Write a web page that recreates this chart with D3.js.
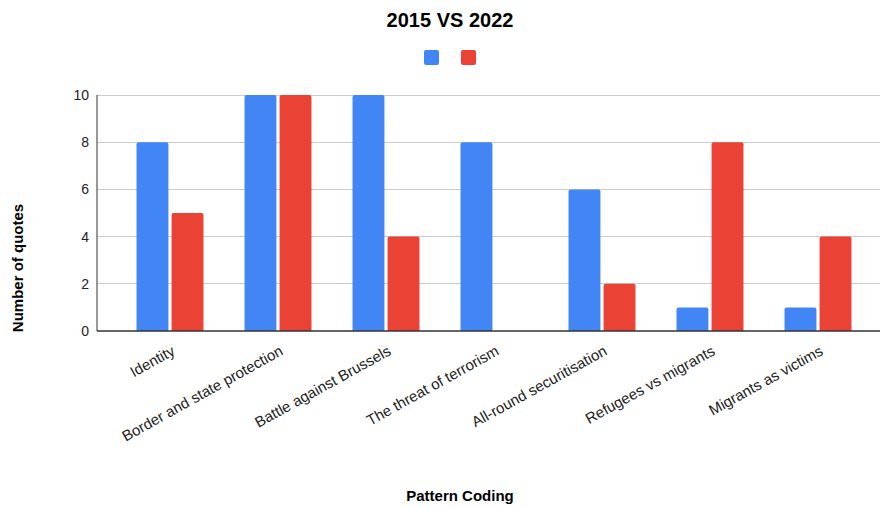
<!DOCTYPE html>
<html><head><meta charset="utf-8">
<script src="https://cdn.jsdelivr.net/npm/d3@7"></script>
<style>body{margin:0;background:#fff}svg{display:block;font-family:"Liberation Sans",Arial,sans-serif}</style>
</head><body><svg id="c" width="881" height="508"></svg>
<script>
const categories = ["Identity","Border and state protection","Battle against Brussels","The threat of terrorism","All-round securitisation","Refugees vs migrants","Migrants as victims"];
const seriesNames = ["2015","2022"];
const values2015 = [8,10,10,8,6,1,1];
const values2022 = [5,10,4,0,2,8,4];
const yTicks = [0,2,4,6,8,10];
const colors = ["#4285F4","#EA4335"];

const svg = d3.select("#c");
const plotL = 97, plotR = 880, plotT = 95, plotB = 331;
const x = d3.scaleBand().domain(categories).range([116, 872]).paddingInner(0.38).paddingOuter(0.19);
const xs = d3.scaleBand().domain(seriesNames).range([0, x.bandwidth()]).paddingInner(0.09);
const y = d3.scaleLinear().domain([0,10]).range([plotB, plotT]);

// title
svg.append("text").attr("x", 450).attr("y", 27).attr("text-anchor","middle")
  .attr("font-size", 20).attr("font-weight","bold").attr("fill","#000").text("2015 VS 2022");

// legend
const legend = svg.append("g");
seriesNames.forEach((s,i)=>{
  legend.append("rect").attr("x", 424 + i*37).attr("y", 50).attr("width", 15).attr("height", 15)
    .attr("rx", 2).attr("fill", colors[i]);
});

// gridlines
svg.append("g").selectAll("line").data(yTicks.filter(t=>t>0)).join("line")
  .attr("x1", plotL).attr("x2", plotR).attr("y1", d=>y(d)).attr("y2", d=>y(d))
  .attr("stroke", "#cccccc").attr("stroke-width", 1).attr("shape-rendering","crispEdges");

// y tick labels
svg.append("g").selectAll("text").data(yTicks).join("text")
  .attr("x", 89).attr("y", d=>y(d)+5).attr("text-anchor","end")
  .attr("font-size", 14).attr("fill","#222").text(d=>d);

// bars
const data = categories.map((c,i)=>({c, vals:[values2015[i], values2022[i]]}));
function barPath(x0, w, yTop, yBot, r){
  const h = yBot - yTop;
  if (h <= 0) return "";
  r = Math.min(r, h, w/2);
  return `M${x0},${yBot}V${yTop+r}Q${x0},${yTop} ${x0+r},${yTop}H${x0+w-r}Q${x0+w},${yTop} ${x0+w},${yTop+r}V${yBot}Z`;
}
const g = svg.append("g");
data.forEach(d=>{
  d.vals.forEach((v,j)=>{
    g.append("path")
      .attr("d", barPath(x(d.c)+xs(seriesNames[j]), xs.bandwidth(), y(v), y(0), 2))
      .attr("fill", colors[j]);
  });
});

// axes lines
svg.append("line").attr("x1", plotL).attr("x2", plotR).attr("y1", plotB).attr("y2", plotB)
  .attr("stroke","#333").attr("stroke-width",1.5);
svg.append("line").attr("x1", plotL).attr("x2", plotL).attr("y1", plotT).attr("y2", plotB)
  .attr("stroke","#333").attr("stroke-width",1);

// x labels
svg.append("g").selectAll("text").data(categories).join("text")
  .attr("transform", d=>`translate(${x(d)+x.bandwidth()/2+6},${354}) rotate(-29)`)
  .attr("text-anchor","end").attr("font-size", 15).attr("fill","#222").text(d=>d);

// axis titles
svg.append("text").attr("x", 460).attr("y", 501).attr("text-anchor","middle")
  .attr("font-size", 15).attr("font-weight","bold").attr("fill","#000").text("Pattern Coding");
svg.append("text").attr("transform","translate(23,268) rotate(-90)").attr("text-anchor","middle")
  .attr("font-size", 15).attr("font-weight","bold").attr("fill","#000").text("Number of quotes");
</script></body></html>
